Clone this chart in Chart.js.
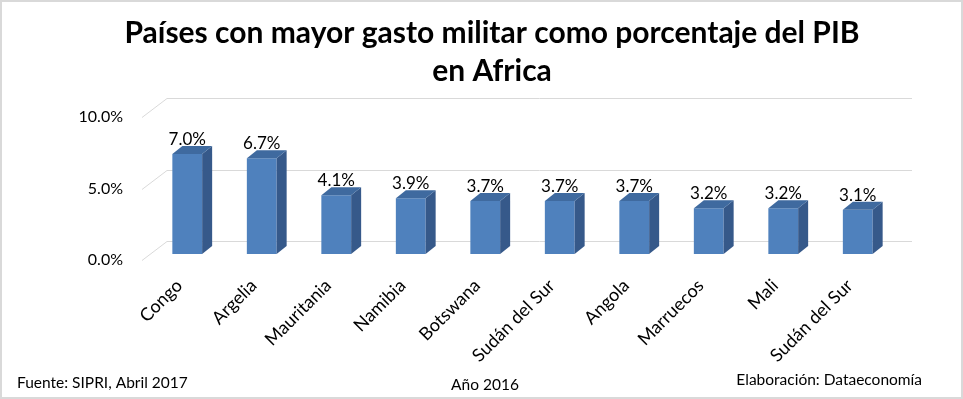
<!DOCTYPE html>
<html lang="es">
<head>
  <meta charset="UTF-8" />
  <title>Gasto militar en Africa</title>
  <script src="https://cdn.jsdelivr.net/npm/chart.js"></script>
  <style>
    html, body {
      margin: 0;
      padding: 0;
      background: #ffffff;
    }
    canvas {
      display: block;
    }
  </style>
</head>
<body>
  <canvas id="gastoChart" width="963" height="399"></canvas>

  <script>
    // Datos (SIPRI, 2016)
    const paises = ['Congo', 'Argelia', 'Mauritania', 'Namibia', 'Botswana', 'Sudán del Sur', 'Angola', 'Marruecos', 'Mali', 'Sudán del Sur'];
    const gastoPIB = [7.0, 6.7, 4.1, 3.9, 3.7, 3.7, 3.7, 3.2, 3.2, 3.1];
    const ticksY = [0, 5, 10];

    const tituloLineas = ['Países con mayor gasto militar como porcentaje del PIB', 'en Africa'];
    const fuente = 'Fuente: SIPRI, Abril 2017';
    const anio = 'Año 2016';
    const elaboracion = 'Elaboración: Dataeconomía';

    const FONT = 'Lato, "Open Sans", sans-serif';

    // desplazamientos de la "perspectiva" 3D
    const wallDx = 25, wallDy = 19;   // pared del fondo
    const barDx = 8, barDy = 6;       // plano de las barras
    const depthX = 10, depthY = 8;    // profundidad de cada barra

    const bars3d = {
      id: 'bars3d',
      beforeDatasetsDraw(chart) {
        const ctx = chart.ctx;
        const area = chart.chartArea;
        const y = chart.scales.y;
        // lineas de la pared del fondo y pared lateral
        ctx.save();
        ctx.strokeStyle = '#d9d9d9';
        ctx.lineWidth = 1;
        ticksY.forEach(v => {
          const yf = Math.round(y.getPixelForValue(v)) + 0.5;
          ctx.beginPath();
          ctx.moveTo(area.left, yf);
          ctx.lineTo(area.left + wallDx, yf - wallDy);
          ctx.lineTo(area.right + wallDx, yf - wallDy);
          ctx.stroke();
        });
        ctx.restore();

        ctx.save();
        ctx.translate(barDx, -barDy);
      },
      afterDatasetsDraw(chart) {
        const ctx = chart.ctx;
        const meta = chart.getDatasetMeta(0);
        meta.data.forEach((bar, i) => {
          const p = bar.getProps(['x', 'y', 'base', 'width'], true);
          const l = p.x - p.width / 2;
          const r = p.x + p.width / 2;
          // cara lateral
          ctx.fillStyle = '#36598a';
          ctx.beginPath();
          ctx.moveTo(r, p.y);
          ctx.lineTo(r + depthX, p.y - depthY);
          ctx.lineTo(r + depthX, p.base - depthY);
          ctx.lineTo(r, p.base);
          ctx.closePath();
          ctx.fill();
          // cara superior
          ctx.fillStyle = '#3f6a9f';
          ctx.beginPath();
          ctx.moveTo(l, p.y);
          ctx.lineTo(l + depthX, p.y - depthY);
          ctx.lineTo(r + depthX, p.y - depthY);
          ctx.lineTo(r, p.y);
          ctx.closePath();
          ctx.fill();
          // etiqueta de valor
          ctx.fillStyle = '#000000';
          ctx.font = '17px ' + FONT;
          ctx.textAlign = 'center';
          ctx.textBaseline = 'alphabetic';
          ctx.fillText(gastoPIB[i].toFixed(1) + '%', p.x, p.y - depthY - 1);
        });
        ctx.restore();
      },
      afterDraw(chart) {
        const ctx = chart.ctx;
        ctx.save();
        ctx.fillStyle = '#000000';
        ctx.font = '15.5px ' + FONT;
        ctx.textBaseline = 'alphabetic';
        ctx.textAlign = 'left';
        ctx.fillText(fuente, 17, 388);
        ctx.textAlign = 'center';
        ctx.fillText(anio, 485, 390);
        ctx.textAlign = 'right';
        ctx.fillText(elaboracion, 922, 385);
        // borde del grafico
        ctx.strokeStyle = '#d9d9d9';
        ctx.lineWidth = 2;
        ctx.strokeRect(1, 1, chart.width - 2, chart.height - 2);
        ctx.restore();
      }
    };

    new Chart(document.getElementById('gastoChart'), {
      type: 'bar',
      data: {
        labels: paises,
        datasets: [{
          label: 'Gasto militar (% del PIB)',
          data: gastoPIB,
          backgroundColor: '#4f81bd',
          borderWidth: 0,
          barPercentage: 0.4,
          categoryPercentage: 1.0
        }]
      },
      options: {
        responsive: false,
        animation: false,
        layout: {
          padding: { left: 21, right: 0, top: 0, bottom: 0 }
        },
        plugins: {
          legend: { display: false },
          tooltip: { enabled: false },
          title: {
            display: true,
            text: tituloLineas,
            color: '#000000',
            font: { family: FONT, size: 30, weight: 'bold', lineHeight: 1.25 },
            padding: { top: 15, bottom: 27 }
          }
        },
        scales: {
          x: {
            grid: { display: false, drawTicks: false },
            border: { display: false },
            ticks: {
              color: '#000000',
              font: { family: FONT, size: 18 },
              minRotation: 45,
              maxRotation: 45,
              padding: 15,
              autoSkip: false
            },
            afterFit(s) { s.height = 139; }
          },
          y: {
            min: 0,
            max: 10,
            grid: { display: false, drawTicks: false },
            border: { display: false },
            ticks: {
              stepSize: 5,
              color: '#000000',
              font: { family: FONT, size: 16 },
              padding: 19,
              callback: v => v.toFixed(1) + '%'
            },
            afterFit(s) { s.width = 121; }
          },
          // eje vacio a la derecha: deja el hueco de la pared del fondo
          margen: {
            type: 'linear',
            position: 'right',
            grid: { display: false, drawTicks: false },
            border: { display: false },
            ticks: { display: false },
            afterFit(s) { s.width = 76; }
          }
        }
      },
      plugins: [bars3d]
    });
  </script>
</body>
</html>
